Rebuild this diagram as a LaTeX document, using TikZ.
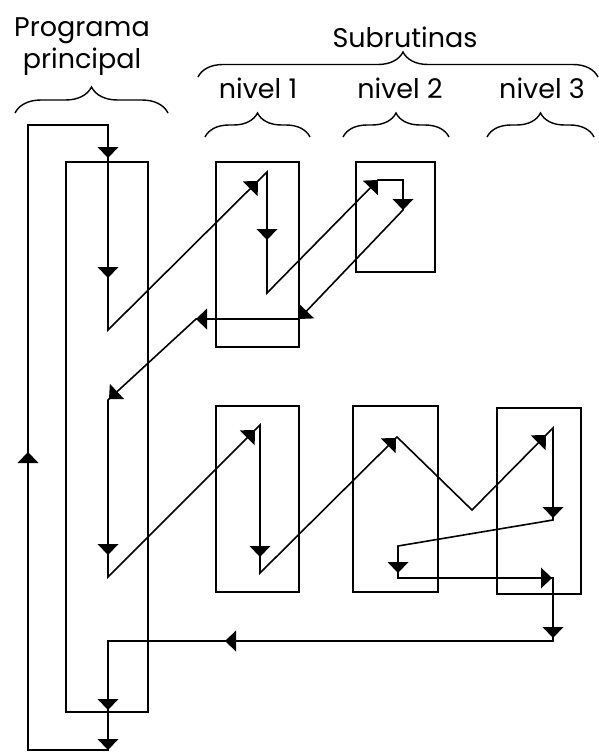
\documentclass[tikz,border=0pt]{standalone}
\usepackage{fontspec}
\setmainfont{Poppins}
\usetikzlibrary{decorations.pathreplacing}
\begin{document}
\begin{tikzpicture}[x=1pt,y=-1pt,
  flow/.style={line width=1.6pt, line join=miter},
  box/.style={draw, line width=1.8pt, inner sep=0pt},
  bracestyle/.style={decorate, decoration={brace, amplitude=#1}, line width=1.4pt},
  lbl/.style={font=\fontsize{27}{32}\selectfont, inner sep=0pt, anchor=base},
  tri/.pic={\fill (0,0) -- (-11,10.5) -- (-11,-10.5) -- cycle;}]
\useasboundingbox (0,0) rectangle (599,752);

% labels
\node[lbl] (tprog) at (82,37) {Programa};
\node[lbl] (tprin) at (82,69) {principal};
\node[lbl] (tsub) at (405,48) {Subrutinas};
\node[lbl] (tn1) at (258,98) {nivel 1};
\node[lbl] (tn2) at (400,98) {nivel 2};
\node[lbl] (tn3) at (542,98) {nivel 3};

% braces
\draw[bracestyle=26] (15,113) -- (168,113);
\draw[bracestyle=25, decoration={aspect=0.5125}] (198,77) -- (598,77);
\draw[bracestyle=24] (205,137) -- (310,137);
\draw[bracestyle=24] (343,137) -- (449,137);
\draw[bracestyle=24] (487,137) -- (594,137);

% boxes
\node[box, minimum width=82pt, minimum height=550pt] (main) at (107,437) {};
\node[box, minimum width=83pt, minimum height=185pt] (n1a) at (257.5,254.5) {};
\node[box, minimum width=79pt, minimum height=110pt] (n2a) at (395.5,217) {};
\node[box, minimum width=83pt, minimum height=186pt] (n1b) at (257.5,499) {};
\node[box, minimum width=85pt, minimum height=186pt] (n2b) at (395.5,499) {};
\node[box, minimum width=84pt, minimum height=186pt] (n3) at (539,501) {};

% flow corners
\coordinate (s0) at (28,750);
\coordinate (s1) at (28,125);
\coordinate (s2) at (108,125);
\coordinate (m1) at (108,330);
\coordinate (a1) at (267,172);
\coordinate (a2) at (267,293);
\coordinate (b1) at (378,180);
\coordinate (b2) at (403,180);
\coordinate (b3) at (403,210);
\coordinate (c1) at (299,319);
\coordinate (c2) at (196,319);
\coordinate (m2) at (108,400);
\coordinate (m3) at (108,577);
\coordinate (d1) at (260,425);
\coordinate (d2) at (260,573);
\coordinate (e1) at (397,437);
\coordinate (e2) at (472,510);
\coordinate (f1) at (553,428);
\coordinate (f2) at (553,520);
\coordinate (g1) at (398,546);
\coordinate (g2) at (398,578);
\coordinate (f3) at (553,578);
\coordinate (f4) at (553,641);
\coordinate (m4) at (108,641);
\coordinate (m5) at (108,750);

\draw[flow] (s0) -- (s1) -- (s2) -- (m1) -- (a1) -- (a2) -- (b1) -- (b2) -- (b3)
  -- (c1) -- (c2) -- (m2) -- (m3) -- (d1) -- (d2) -- (e1) -- (e2) -- (f1) -- (f2)
  -- (g1) -- (g2) -- (f3) -- (f4) -- (m4) -- (m5) -- cycle;

% arrowheads
\pic[rotate=-90] at (108,158) {tri};
\pic[rotate=-90] at (108,278) {tri};
\pic[rotate=45] at (258,181) {tri};
\pic[rotate=-90] at (267,240) {tri};
\pic[rotate=46] at (378,180) {tri};
\pic[rotate=-90] at (403,210) {tri};
\pic[rotate=-134] at (299,319) {tri};
\pic[rotate=180] at (196,319) {tri};
\pic[rotate=-137] at (109,399) {tri};
\pic[rotate=-90] at (108,555) {tri};
\pic[rotate=45] at (255,430) {tri};
\pic[rotate=-90] at (260,557) {tri};
\pic[rotate=45] at (396,438) {tri};
\pic[rotate=45] at (546,435) {tri};
\pic[rotate=-90] at (553,518) {tri};
\pic[rotate=-90] at (398,573) {tri};
\pic[rotate=0] at (552,578) {tri};
\pic[rotate=-90] at (553,638) {tri};
\pic[rotate=180] at (225,641) {tri};
\pic[rotate=-90] at (108,710) {tri};
\pic[rotate=-90] at (108,750) {tri};
\pic[rotate=90] at (28,452) {tri};
\end{tikzpicture}
\end{document}
